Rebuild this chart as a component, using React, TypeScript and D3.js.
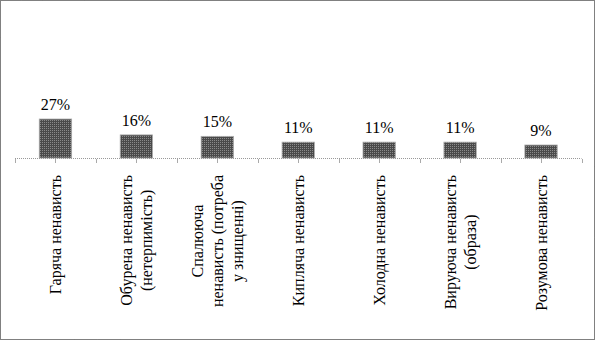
import React from "react";
import * as d3 from "d3";

const categories: string[][] = [
  ["Гаряча ненависть"],
  ["Обурена ненависть", "(нетерпимість)"],
  ["Спалююча", "ненависть (потреба", "у знищенні)"],
  ["Кипляча ненависть"],
  ["Холодна ненависть"],
  ["Вируюча ненависть", "(образа)"],
  ["Розумова ненависть"],
];
const values: number[] = [27, 16, 15, 11, 11, 11, 9];
const valueLabels: string[] = ["27%", "16%", "15%", "11%", "11%", "11%", "9%"];

const W = 597;
const H = 341;
const FONT = "Liberation Serif";

let ctx: CanvasRenderingContext2D | null = null;
function measure(s: string): number {
  if (!ctx) {
    const c = document.createElement("canvas");
    ctx = c.getContext("2d");
  }
  if (!ctx) return s.length * 8;
  ctx.font = `16px "Liberation Serif"`;
  return ctx.measureText(s).width;
}

export default function App() {
  const x = d3
    .scaleBand<number>()
    .domain(d3.range(categories.length))
    .range([15, 581.5])
    .paddingInner(0.6)
    .paddingOuter(0.3);
  const step = x.step();
  const x0 = 15;
  const y = d3.scaleLinear().domain([0, 100]).range([158, 13.6]);
  const baseY = y(0);

  const ticks = d3.range(categories.length * 2 + 1).map((i) => x0 + (i * step) / 2);
  const lineH = 20;
  const labelTop = 175;

  return (
    <svg
      width={W}
      height={H}
      style={{ position: "absolute", left: 0, top: 0, background: "#fff" }}
    >
      <defs>
        <pattern id="dots" width="2" height="2" patternUnits="userSpaceOnUse">
          <rect width="2" height="2" fill="#4a4a4a" />
          <rect width="1" height="1" fill="#8a8a8a" />
        </pattern>
      </defs>
      <rect
        x={0.5}
        y={0.5}
        width={594}
        height={339}
        fill="none"
        stroke="#000"
        strokeDasharray="1,1"
      />
      {values.map((v, i) => (
        <rect
          key={"b" + i}
          x={x(i)!}
          y={y(v)}
          width={x.bandwidth()}
          height={baseY - y(v)}
          fill="url(#dots)"
          stroke="#aaa"
          strokeWidth={0.8}
        />
      ))}
      <line
        x1={x0}
        x2={x0 + step * categories.length}
        y1={baseY + 0.5}
        y2={baseY + 0.5}
        stroke="#999"
        strokeDasharray="1,1"
      />
      {ticks.map((t, i) => (
        <line
          key={"t" + i}
          x1={Math.round(t) + 0.5}
          x2={Math.round(t) + 0.5}
          y1={baseY + 1}
          y2={baseY + 5}
          stroke="#aaa"
          strokeWidth={1}
        />
      ))}
      <g style={{ fontFamily: "'Liberation Serif', serif", fontSize: "16px" }} fill="#000">
        {values.map((v, i) => (
          <text
            key={"v" + i}
            x={x(i)! + x.bandwidth() / 2}
            y={y(v) - 9}
            textAnchor="middle"
          >
            {valueLabels[i]}
          </text>
        ))}
        {categories.map((lines, i) => {
          const cx = x(i)! + x.bandwidth() / 2;
          const n = lines.length;
          const maxW = Math.max(...lines.map(measure));
          const cy = labelTop + maxW / 2;
          return (
            <g key={"c" + i} transform={`translate(${cx},${cy}) rotate(-90)`}>
              {lines.map((ln, j) => (
                <text
                  key={j}
                  x={0}
                  y={(j - (n - 1) / 2) * lineH + 5.5}
                  textAnchor="middle"
                >
                  {ln}
                </text>
              ))}
            </g>
          );
        })}
      </g>
    </svg>
  );
}
